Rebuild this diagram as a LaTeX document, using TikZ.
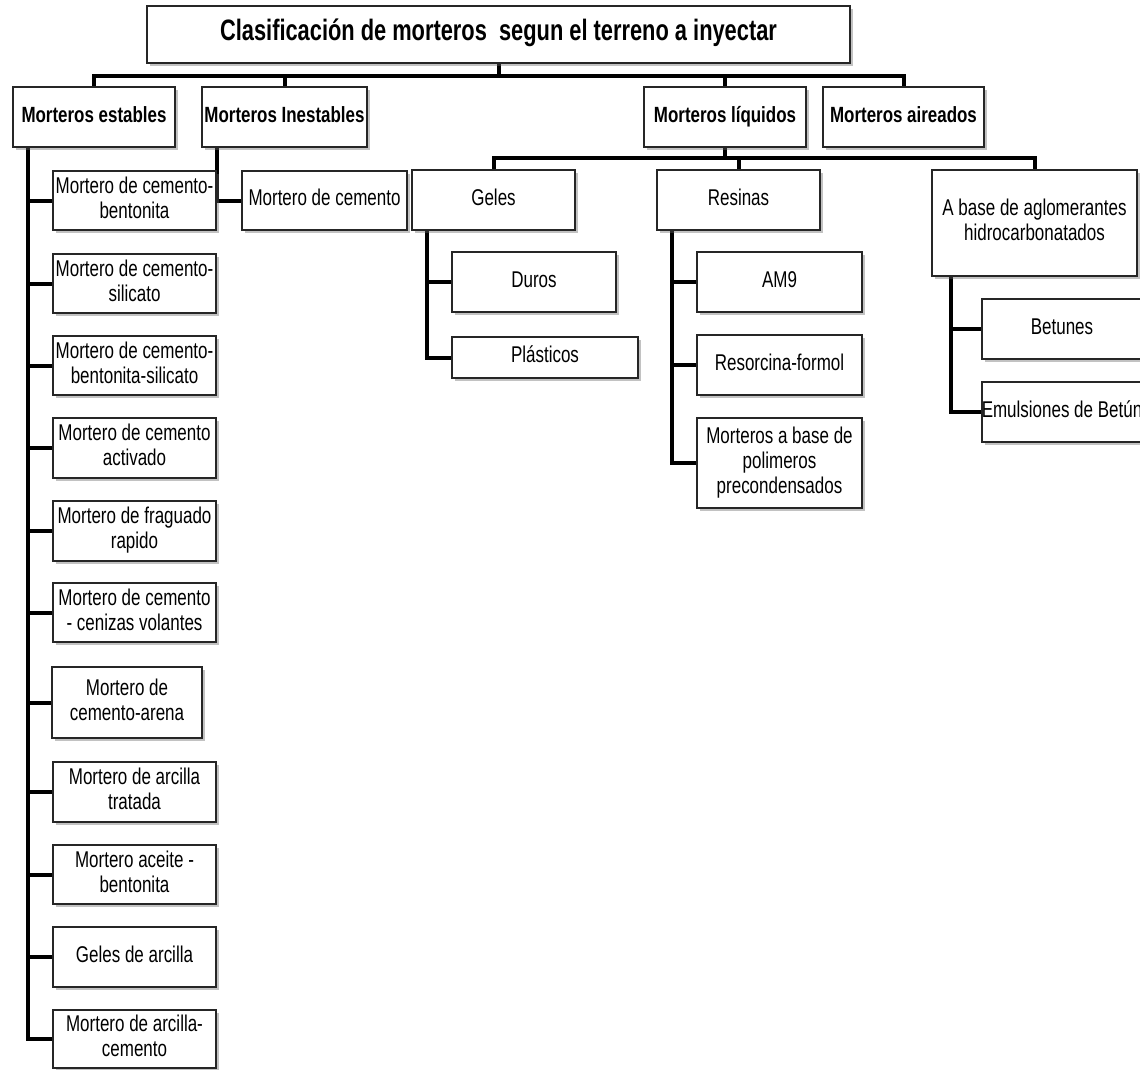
\documentclass[tikz,border=0pt]{standalone}
\usepackage{fontspec}
\setmainfont{Liberation Sans}
\newfontfamily\bodyfont{Liberation Sans}[FakeStretch=0.745]
\newfontfamily\headfont{Liberation Sans}[FakeStretch=0.77]
\newfontfamily\titlefont{Liberation Sans}[FakeStretch=0.74]
\usetikzlibrary{shadows,backgrounds}

% centred label lines that never widen the box
\newcommand{\boxtext}[1]{\makebox[0pt]{\begin{tabular}{@{}c@{}}#1\end{tabular}}}
% \mybox{style}{name}{x1}{y1}{x2}{y2}{text}
\newcommand{\mybox}[7]{%
  \node[#1, minimum width={(#5-#3)*1pt}, minimum height={(#6-#4)*1pt}]
    (#2) at ({(#3+#5)/2},{(#4+#6)/2}) {\boxtext{#7}};}

\tikzset{
  box/.style={draw=black!85, line width=1.2pt, fill=white, inner sep=0pt,
    drop shadow={shadow xshift=2.5pt, shadow yshift=-2.5pt, opacity=0.4, fill=black!60},
    font=\bodyfont\fontsize{22.8}{25}\selectfont},
  headbox/.style={box, font=\headfont\bfseries\fontsize{22}{25}\selectfont},
  titlebox/.style={box, font=\titlefont\bfseries\fontsize{29.5}{32}\selectfont},
  conn/.style={line width=4pt, black},
}

\begin{document}
\begin{tikzpicture}[x=1pt, y=-1pt]
\useasboundingbox (0,0) rectangle (1140,1069);

% title and first level
\mybox{titlebox}{title}{147}{6}{850}{63}{Clasificación de morteros\ \ segun el terreno a inyectar}
\mybox{headbox}{estables}{13}{87}{175}{147}{Morteros estables}
\mybox{headbox}{inestables}{202}{87}{367}{147}{Morteros Inestables}
\mybox{headbox}{liquidos}{644}{87}{806}{147}{Morteros líquidos}
\mybox{headbox}{aireados}{823}{87}{984}{147}{Morteros aireados}

% stable mortars
\mybox{box}{e1}{53}{171}{216}{230}{Mortero de cemento-\\bentonita}
\mybox{box}{e2}{53}{254}{216}{313}{Mortero de cemento-\\silicato}
\mybox{box}{e3}{53}{336}{216}{395}{Mortero de cemento-\\bentonita-silicato}
\mybox{box}{e4}{53}{418}{216}{478}{Mortero de cemento\\activado}
\mybox{box}{e5}{53}{501}{216}{561}{Mortero de fraguado\\rapido}
\mybox{box}{e6}{53}{583}{216}{642}{Mortero de cemento\\- cenizas volantes}
\mybox{box}{e7}{52}{667}{202}{738}{Mortero de\\cemento-arena}
\mybox{box}{e8}{53}{762}{216}{822}{Mortero de arcilla\\tratada}
\mybox{box}{e9}{53}{845}{216}{904}{Mortero aceite -\\bentonita}
\mybox{box}{e10}{53}{927}{216}{987}{Geles de arcilla}
\mybox{box}{e11}{53}{1010}{216}{1068}{Mortero de arcilla-\\cemento}

% unstable mortars
\mybox{box}{c1}{242}{171}{407}{230}{Mortero de cemento}

% liquid mortars
\mybox{box}{geles}{412}{170}{575}{230}{Geles}
\mybox{box}{resinas}{657}{170}{820}{230}{Resinas}
\mybox{box}{abase}{932}{170}{1137}{276}{A base de aglomerantes\\hidrocarbonatados}
\mybox{box}{duros}{452}{252}{616}{312}{Duros}
\mybox{box}{plasticos}{452}{337}{638}{378}{Plásticos}
\mybox{box}{am9}{697}{252}{862}{312}{AM9}
\mybox{box}{resorcina}{697}{335}{862}{395}{Resorcina-formol}
\mybox{box}{polimeros}{697}{418}{862}{508}{Morteros a base de\\polimeros\\precondensados}
\mybox{box}{betunes}{982}{299}{1142}{359}{Betunes}
\mybox{box}{emulsiones}{982}{382}{1142}{442}{Emulsiones de Betún}

\begin{scope}[on background layer]
  \coordinate (topbar) at (0,76);
  \coordinate (subbar) at (0,158);
  \draw[conn] (title.south) -- (title.south |- topbar);
  \foreach \n in {estables,inestables,liquidos,aireados}
    \draw[conn] (title.south |- topbar) -| (\n.north);
  \draw[conn] (liquidos.south) -- (liquidos.south |- subbar);
  \foreach \n in {geles,resinas,abase}
    \draw[conn] (liquidos.south |- subbar) -| (\n.north);

  \coordinate (ev) at ([xshift=16pt]estables.south west);
  \foreach \n in {e1,e2,e3,e4,e5,e6,e7,e8,e9,e10,e11}
    \draw[conn] (ev) |- (\n.west);
  \coordinate (iv) at ([xshift=16pt]inestables.south west);
  \draw[conn] (iv) |- (c1.west);
  \coordinate (gv) at ([xshift=16pt]geles.south west);
  \foreach \n in {duros,plasticos}
    \draw[conn] (gv) |- (\n.west);
  \coordinate (rv) at ([xshift=16pt]resinas.south west);
  \foreach \n in {am9,resorcina,polimeros}
    \draw[conn] (rv) |- (\n.west);
  \coordinate (av) at ([xshift=20pt]abase.south west);
  \foreach \n in {betunes,emulsiones}
    \draw[conn] (av) |- (\n.west);
\end{scope}
\end{tikzpicture}
\end{document}
